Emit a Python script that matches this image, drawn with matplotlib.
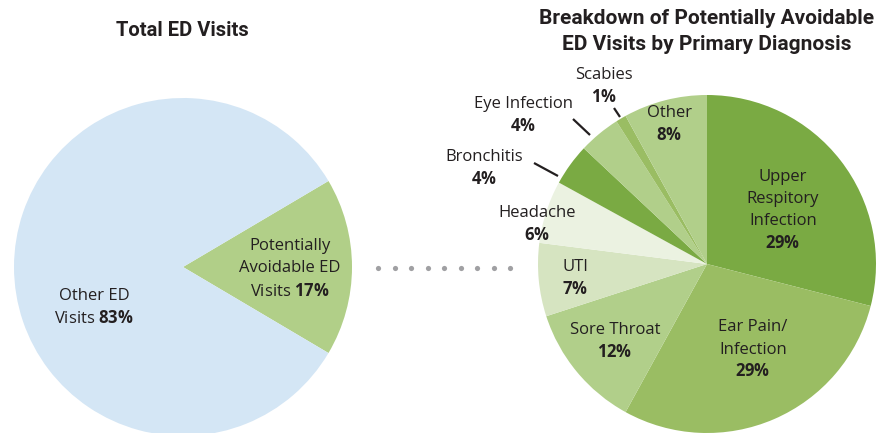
import numpy as np
import matplotlib
matplotlib.use("Agg")
import matplotlib.pyplot as plt

plt.rcParams['font.family'] = ['Open Sans', 'DejaVu Sans']
plt.rcParams['mathtext.fontset'] = 'custom'
plt.rcParams['mathtext.rm'] = 'Open Sans'
plt.rcParams['mathtext.bf'] = 'Open Sans:bold'

# left pie: total ED visits
total_labels = ['Potentially Avoidable ED Visits', 'Other ED Visits']
total_values = [17, 83]
total_colors = ['#b1cf88', '#d4e6f5']

# right pie: breakdown by primary diagnosis (clockwise from top)
diag_labels = ['Upper Respitory Infection', 'Ear Pain/ Infection', 'Sore Throat', 'UTI',
               'Headache', 'Bronchitis', 'Eye Infection', 'Scabies', 'Other']
diag_values = [29, 29, 12, 7, 6, 4, 4, 1, 8]
diag_colors = ['#7aaa43', '#9abd63', '#b1cf8a', '#d6e4c1', '#ebf2e1',
               '#7aaa43', '#b1cf8a', '#9abd63', '#b1cf8a']

W, H = 877, 433
TXT = '#231f20'

fig = plt.figure(figsize=(W / 100, H / 100), dpi=100)
ax = fig.add_axes([0, 0, 1, 1])

def Y(y):
    return H - y

# left pie, avoidable wedge centred on the right
start = -total_values[0] / 100 * 360 / 2
ax.pie(total_values, colors=total_colors, startangle=start, counterclock=True,
       center=(183, Y(267)), radius=169, wedgeprops=dict(linewidth=0), frame=True)

# right pie
ax.pie(diag_values, colors=diag_colors, startangle=90, counterclock=False,
       center=(707, Y(264)), radius=169, wedgeprops=dict(linewidth=0), frame=True)

ax.set_xlim(0, W)
ax.set_ylim(0, H)
ax.set_aspect('equal')
ax.axis('off')

def label(x, y, lines, size=12, step=22.5):
    for i, s in enumerate(lines):
        ax.text(x, Y(y + i * step), s, ha='center', va='center', fontsize=size, color=TXT)

def pct(v):
    return r'$\mathbf{%d\%%}$' % v

# left labels
label(290, 246, ['Potentially', 'Avoidable ED', 'Visits ' + pct(total_values[0])])
label(94, 296, ['Other ED', 'Visits ' + pct(total_values[1])])

# right labels
label(783, 177, ['Upper', 'Respitory', 'Infection', pct(diag_values[0])], step=22)
label(753, 327, ['Ear Pain/', 'Infection', pct(diag_values[1])])
label(615, 330, ['Sore Throat', pct(diag_values[2])])
label(575, 267, ['UTI', pct(diag_values[3])])
label(537, 213, ['Headache', pct(diag_values[4])])
label(484, 157, ['Bronchitis', pct(diag_values[5])])
label(523, 104, ['Eye Infection', pct(diag_values[6])])
label(604, 75, ['Scabies', pct(diag_values[7])])
label(669, 113, ['Other', pct(diag_values[8])])

# leader lines
for (x0, y0), (x1, y1) in [((534, 163), (558, 176)), ((573, 119), (590, 135)),
                           ((614, 108), (620, 117))]:
    ax.plot([x0, x1], [Y(y0), Y(y1)], color=TXT, lw=1.6, solid_capstyle='butt')

# dotted connector
dx = np.linspace(378, 510, 9)
ax.scatter(dx, [Y(268)] * len(dx), s=14, color='#a0a0a3', linewidths=0)

# titles
tfont = ['Roboto', 'DejaVu Sans']
ax.text(182, Y(30), 'Total ED Visits', ha='center', va='center', fontsize=14.5,
        fontweight='bold', color=TXT, family=tfont)
ax.text(707, Y(18), 'Breakdown of Potentially Avoidable', ha='center', va='center',
        fontsize=15, fontweight='bold', color=TXT, family=tfont)
ax.text(707, Y(44), 'ED Visits by Primary Diagnosis', ha='center', va='center',
        fontsize=15, fontweight='bold', color=TXT, family=tfont)

fig.savefig('out.png', dpi=100)
